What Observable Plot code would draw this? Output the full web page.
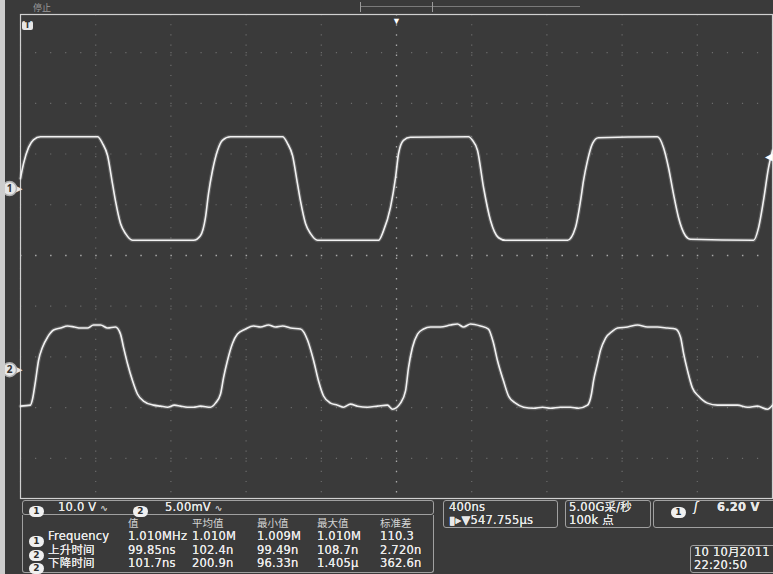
<!DOCTYPE html>
<html>
<head>
<meta charset="utf-8">
<script src="https://cdn.jsdelivr.net/npm/d3@7"></script>
<script src="https://cdn.jsdelivr.net/npm/@observablehq/plot@0.6"></script>
<style>
  body { margin:0; background:#3a3a3a; }
  #wrap { position:relative; width:773px; height:574px; overflow:hidden; background:#3a3a3a;
          font-family:"DejaVu Sans","Noto Sans CJK SC",sans-serif; color:#e8e8e8; }
  #chart svg { display:block; }
  .abs { position:absolute; white-space:nowrap; }
  .box { position:absolute; border:1px solid #a0a0a0; border-radius:3px; box-sizing:border-box; }
  .badge { display:inline-block; width:15px; height:11px; border-radius:6px; background:#f0f0f0; color:#2e2e2e;
           font-size:9px; font-weight:bold; line-height:11px; text-align:center; vertical-align:middle; }
  .t { font-size:11.5px; line-height:13px; letter-spacing:0.2px; text-shadow:0 0 0.6px #fff; }
  .h { font-size:10.5px; line-height:12px; color:#d4d4d4; }
</style>
</head>
<body>
<div id="wrap">
  <div id="chart"></div>
  <div id="panel" class="abs" style="left:0;top:498px;width:773px;height:76px;"></div>
  <div class="abs" style="left:0;top:0;width:5px;height:574px;background:#cdcdcd;"></div>
  <div class="abs" style="left:33px;top:1px;font-size:9px;color:#9a9a9a;">停止</div>
  <div class="abs" style="left:360px;top:6px;width:220px;height:1px;background:#7a7a7a;"></div>
  <div class="abs" style="left:360px;top:2px;width:1px;height:10px;background:#9a9a9a;"></div>
  <div class="abs" style="left:432px;top:2px;width:1px;height:10px;background:#9a9a9a;"></div>
  <div class="abs" style="left:22px;top:21px;width:11px;height:9px;background:#e6e6e6;border-radius:2px;color:#333;font-size:8px;font-weight:bold;line-height:9px;text-align:center;">T</div>
</div>
<script>
// ---- scope settings ----
const timeDivs = [-2000, -1600, -1200, -800, -400, 0, 400, 800, 1200, 1600, 2000]; // ns, 400 ns/div
const vertDivs = [-4, -3, -2, -1, 0, 1, 2, 3, 4];                                   // divisions
const ch1VoltsPerDiv = 10.0;     // V/div
const ch2MilliVoltsPerDiv = 5.0; // mV/div
const ch1Position = 1.32;        // div
const ch2Position = -2.25;       // div
const triggerLevel = 6.20;       // V on CH1

// ---- CH1 waveform: [time ns, volts] ----
const ch1 = [
  [-2000,2.0],[-1984,4.9],[-1957,8.1],[-1931,9.6],[-1894,10.2],[-1590,10.2],[-1564,8.9],[-1537,6.5],
  [-1511,1.0],[-1495,-2.4],[-1468,-6.9],[-1441,-8.9],[-1404,-10.2],[-1080,-10.2],[-1043,-9.3],[-1016,-5.7],
  [-1000,-1.0],[-979,3.5],[-952,7.5],[-926,9.5],[-883,10.2],[-606,10.2],[-580,8.9],[-553,6.5],
  [-527,1.0],[-511,-2.4],[-484,-6.9],[-457,-8.9],[-420,-10.2],[-96,-10.2],[-69,-8.3],[-32,-3.7],
  [-5,2.2],[11,6.9],[37,9.5],[74,10.1],[383,10.2],[404,9.5],[431,7.5],[463,0.2],
  [500,-6.3],[543,-9.7],[580,-10.2],[910,-10.2],[952,-7.7],[979,-2.4],[995,1.6],[1016,5.5],
  [1043,8.9],[1074,10.0],[1388,10.2],[1420,8.1],[1447,4.1],[1473,-1.0],[1500,-5.7],[1537,-9.3],
  [1564,-10.0],[1899,-10.2],[1926,-7.7],[1952,-2.4],[1979,4.1],[2000,7.5]
];

// ---- CH2 waveform: [time ns, millivolts] ----
const ch2 = [
  [-2000,-3.6],[-1947,-3.5],[-1936,-2.9],[-1920,-1.1],[-1904,0.9],[-1883,2.2],[-1856,3.2],[-1824,3.9],
  [-1787,4.1],[-1750,4.3],[-1713,4.2],[-1681,4.1],[-1644,4.1],[-1612,4.4],[-1574,4.4],[-1537,4.1],
  [-1495,4.2],[-1468,3.5],[-1452,2.2],[-1431,0.6],[-1404,-1.1],[-1378,-2.4],[-1346,-3.1],[-1293,-3.5],
  [-1255,-3.6],[-1218,-3.7],[-1181,-3.5],[-1149,-3.6],[-1112,-3.7],[-1080,-3.7],[-1043,-3.6],[-989,-3.7],
  [-963,-3.3],[-936,-2.4],[-920,-0.8],[-899,0.9],[-872,2.6],[-846,3.5],[-803,4.0],[-761,4.3],
  [-723,4.2],[-681,4.4],[-644,4.2],[-606,4.3],[-564,4.1],[-511,4.0],[-473,2.9],[-441,0.9],
  [-415,-1.1],[-388,-2.6],[-351,-3.3],[-314,-3.5],[-282,-3.7],[-245,-3.4],[-207,-3.6],[-154,-3.7],
  [-101,-3.6],[-48,-3.5],[-21,-3.9],[21,-3.3],[48,-2.1],[64,0.2],[85,2.2],[112,3.5],
  [144,4.0],[181,4.2],[234,4.2],[287,4.4],[324,4.5],[356,4.2],[394,4.5],[447,4.3],
  [489,4.0],[516,2.6],[537,0.9],[569,-1.1],[596,-2.6],[633,-3.3],[676,-3.7],[729,-3.8],
  [777,-3.7],[819,-3.8],[872,-3.7],[926,-3.7],[968,-3.8],[1016,-3.5],[1037,-2.4],[1048,-1.1],
  [1069,0.6],[1085,1.9],[1112,3.1],[1149,3.8],[1176,4.1],[1229,4.2],[1282,4.4],[1335,4.2],
  [1388,4.2],[1441,4.1],[1484,4.0],[1511,3.2],[1527,1.6],[1548,-0.1],[1574,-1.8],[1606,-2.6],
  [1654,-3.3],[1707,-3.5],[1761,-3.5],[1814,-3.5],[1867,-3.7],[1920,-3.6],[1973,-3.9],[2000,-3.5]
];

// ---- readout texts ----
const channelScales = [{ch:"1", text:"10.0 V"}, {ch:"2", text:"5.00mV"}];
const measHeaders = ["值", "平均值", "最小值", "最大值", "标准差"];
const measRows = [
  {ch:"1", name:"Frequency", values:["1.010MHz","1.010M","1.009M","1.010M","110.3"]},
  {ch:"2", name:"上升时间", values:["99.85ns","102.4n","99.49n","108.7n","2.720n"]},
  {ch:"2", name:"下降时间", values:["101.7ns","200.9n","96.33n","1.405μ","362.6n"]}
];
const timebase = ["400ns", "▮▸▼547.755μs"];
const acquisition = ["5.00G采/秒", "100k 点"];
const triggerText = "6.20 V";
const dateText = ["10 10月2011", "22:20:50"];

const y1 = d => ch1Position + d[1] / ch1VoltsPerDiv;
const y2 = d => ch2Position + d[1] / ch2MilliVoltsPerDiv;
const markers = [{p: ch1Position, c: "1"}, {p: ch2Position, c: "2"}];

const chart = Plot.plot({
  width: 773, height: 498,
  marginLeft: 20, marginRight: 1, marginTop: 14, marginBottom: 0,
  x: {domain: [-2000, 2000], axis: null},
  y: {domain: [-4.79, 4.75], axis: null},
  style: {background: "#3a3a3a", overflow: "visible"},
  marks: [
    Plot.ruleX(timeDivs.filter(t => t !== 0), {stroke: "#6c6c6c", strokeWidth: 1.2, strokeDasharray: "1.2,8.95"}),
    Plot.ruleY(vertDivs.filter(v => v !== 0), {stroke: "#6c6c6c", strokeWidth: 1.2, strokeDasharray: "1.2,13.84"}),
    Plot.ruleX([0], {stroke: "#a8a8a8", strokeWidth: 1.3, strokeDasharray: "1.5,8.65"}),
    Plot.ruleY([0], {stroke: "#a8a8a8", strokeWidth: 1.3, strokeDasharray: "1.5,13.54"}),
    Plot.frame({stroke: "#d0d0d0", strokeWidth: 1.2}),
    Plot.line(ch1, {x: d => d[0], y: y1, curve: "monotone-x", stroke: "#ffffff", strokeOpacity: 0.18, strokeWidth: 4}),
    Plot.line(ch2, {x: d => d[0], y: y2, curve: "monotone-x", stroke: "#ffffff", strokeOpacity: 0.18, strokeWidth: 4}),
    Plot.line(ch1, {x: d => d[0], y: y1, curve: "monotone-x", stroke: "#f2f2f2", strokeWidth: 1.6}),
    Plot.line(ch2, {x: d => d[0], y: y2, curve: "monotone-x", stroke: "#f2f2f2", strokeWidth: 1.6}),
    // channel ground markers (tag pointing right)
    Plot.text(markers, {x: -2000, y: "p", dx: -3, text: () => "▶", fill: "#e6e6e6", fontSize: 11}),
    Plot.dot(markers, {x: -2000, y: "p", dx: -11, r: 7, fill: "#e6e6e6", stroke: "#b0b0b0"}),
    Plot.text(markers, {x: -2000, y: "p", dx: -11, text: "c", fill: "#333", fontSize: 10, fontWeight: "bold"}),
    // trigger level marker (right) and trigger position marker (top)
    Plot.text([ch1Position + triggerLevel / ch1VoltsPerDiv], {x: 2000, y: d => d, dx: -4, text: () => "◀", fill: "#ffffff", fontSize: 10}),
    Plot.text([0], {x: d => d, frameAnchor: "top", dy: 3, text: () => "▼", fill: "#ffffff", fontSize: 9})
  ]
});
document.getElementById("chart").appendChild(chart);

// ---- bottom readout panel ----
const panel = document.getElementById("panel");
function el(html, style, cls) {
  const d = document.createElement("div");
  d.className = "abs " + (cls || "");
  d.style.cssText = style;
  d.innerHTML = html;
  panel.appendChild(d);
  return d;
}
const badge = c => `<span class="badge">${c}</span>`;

// channel scale box
el("", "left:22px;top:2px;width:412px;height:15px;", "box");
const scaleX = [[29, 58], [133, 165]];
channelScales.forEach((s, i) => {
  el(badge(s.ch), `left:${scaleX[i][0]}px;top:3px;`);
  el(`${s.text} <span style="font-size:9px;color:#aaa">∿</span>`, `left:${scaleX[i][1]}px;top:3px;`, "t");
});

// measurement table
el("", "left:22px;top:17px;width:412px;height:58px;border-top:none;border-radius:0 0 3px 3px;", "box");
const colX = [128, 192, 257, 317, 380];
measHeaders.forEach((h, i) => el(h, `left:${colX[i]}px;top:19px;`, "h"));
const rowTop = [32, 46, 59];
measRows.forEach((r, j) => {
  el(badge(r.ch), `left:29px;top:${rowTop[j] + 1}px;`);
  el(r.name, `left:48px;top:${rowTop[j]}px;`, "t");
  r.values.forEach((v, i) => el(v, `left:${colX[i]}px;top:${rowTop[j]}px;`, "t"));
});

// timebase / acquisition / trigger / date boxes
el("", "left:443px;top:2px;width:115px;height:28px;", "box");
el(timebase[0], "left:449px;top:3px;", "t");
el(timebase[1], "left:449px;top:16px;", "t");
el("", "left:565px;top:2px;width:86px;height:28px;", "box");
el(acquisition[0], "left:569px;top:3px;", "t");
el(acquisition[1], "left:569px;top:16px;", "t");
el("", "left:653px;top:2px;width:130px;height:28px;", "box");
el(badge("1"), "left:671px;top:4px;");
el("ʃ", "left:694px;top:3px;font-style:italic;", "t");
el(triggerText, "left:717px;top:3px;font-weight:bold;", "t");
el("", "left:690px;top:47px;width:90px;height:28px;", "box");
el(dateText[0], "left:694px;top:48px;", "t");
el(dateText[1], "left:694px;top:61px;", "t");
</script>
</body>
</html>
